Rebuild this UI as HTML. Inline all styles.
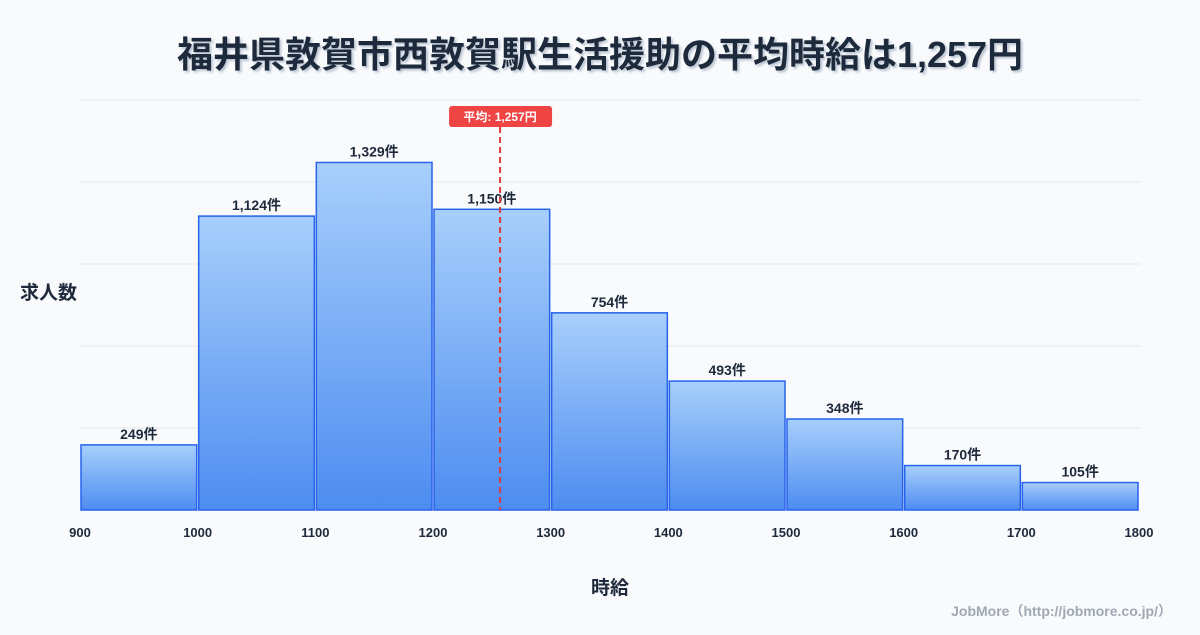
<!DOCTYPE html>
<html><head><meta charset="utf-8"><style>
body{margin:0;background:#f8fafc;font-family:"Liberation Sans","Noto Sans CJK JP",sans-serif;}
svg text{font-family:"Liberation Sans","Noto Sans CJK JP",sans-serif;}
</style></head><body>
<svg id="c" width="1200" height="630">
<defs><linearGradient id="g" x1="0" y1="0" x2="0" y2="1"><stop offset="0" stop-color="#a8cffc"/><stop offset="1" stop-color="#4d8cf0"/></linearGradient>
<filter id="sh"><feDropShadow dx="2" dy="2" stdDeviation="1" flood-color="#94a3b8" flood-opacity="0.6"/></filter></defs>
<text x="600" y="67" text-anchor="middle" font-size="36" font-weight="bold" fill="#1e293b" filter="url(#sh)">福井県敦賀市西敦賀駅生活援助の平均時給は1,257円</text>
<text x="20" y="299" font-size="19" font-weight="bold" fill="#1e293b">求人数</text>
<text x="610" y="594" text-anchor="middle" font-size="19" font-weight="bold" fill="#1e293b">時給</text>
<text x="1172" y="616" text-anchor="end" font-size="14" font-weight="bold" fill="#a0a8b4">JobMore（http://jobmore.co.jp/）</text>
<g id="grid"></g><g id="bars"></g><g id="ticks"></g><g id="mean"></g>
</svg>
<script>
const binStarts=[900,1000,1100,1200,1300,1400,1500,1600,1700];
const counts=[249,1124,1329,1150,754,493,348,170,105];
const xTicks=[900,1000,1100,1200,1300,1400,1500,1600,1700,1800];
const meanValue=1257;
const yMax=1568;
const NS="http://www.w3.org/2000/svg";
const x=v=>80+(v-900)/900*1059;
const y=v=>510-v/yMax*410;
function mk(p,t,a){const e=document.createElementNS(NS,t);for(const k in a)e.setAttribute(k,a[k]);p.appendChild(e);return e;}
const grid=document.getElementById('grid');
for(let i=0;i<=5;i++){const gy=y(yMax*i/5);
const l=mk(grid,'line',{x1:80,x2:1140,y1:gy,y2:gy,stroke:'#e5e7eb','stroke-width':1});

}
const bars=document.getElementById('bars');
binStarts.forEach((s,i)=>{
const x0=x(s)+1,x1=x(s+100)-1,top=y(counts[i]);
const r=mk(bars,'rect',{x:x0,y:top,width:x1-x0,height:510-top,fill:'url(#g)',stroke:'#2563eb','stroke-width':1.5});


const t=mk(bars,'text',{x:(x0+x1)/2,y:top-6,'text-anchor':'middle','font-size':14,'font-weight':'bold',fill:'#1e293b'});
t.textContent=counts[i].toLocaleString('en-US')+'件';


});
const ticks=document.getElementById('ticks');
xTicks.forEach(v=>{const t=mk(ticks,'text',{x:x(v),y:537,'text-anchor':'middle','font-size':13,'font-weight':'bold',fill:'#1e293b'});
t.textContent=v;

});
const m=document.getElementById('mean');const mx=x(meanValue);
const ml=mk(m,'line',{x1:mx,x2:mx,y1:127,y2:510,stroke:'#dc3c3c','stroke-width':2,'stroke-dasharray':'6,4'});


const mb=mk(m,'rect',{x:mx-51,y:106,width:103,height:21,rx:3,fill:'#ef4444'});


const mt=mk(m,'text',{x:mx,y:121,'text-anchor':'middle','font-size':12,'font-weight':'bold',fill:'#fff'});
mt.textContent='平均: '+meanValue.toLocaleString('en-US')+'円';


</script>
</body></html>
